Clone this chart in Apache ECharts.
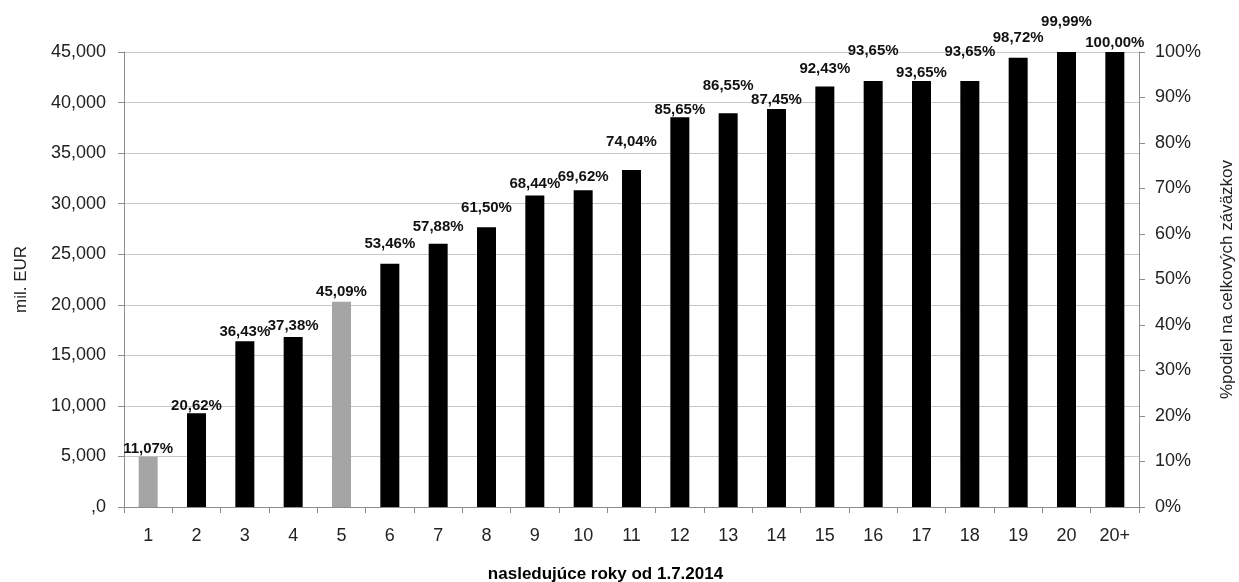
<!DOCTYPE html>
<html>
<head>
<meta charset="utf-8">
<script src="https://cdn.jsdelivr.net/npm/echarts@6/dist/echarts.min.js"></script>
<style>
html,body{margin:0;padding:0;background:#fff;}
#chart{width:1239px;height:582px;}
</style>
</head>
<body>
<div id="chart"></div>
<script>
// ---- data ----
var categories = ['1','2','3','4','5','6','7','8','9','10','11','12','13','14','15','16','17','18','19','20','20+'];
var sharePct = [11.07, 20.62, 36.43, 37.38, 45.09, 53.46, 57.88, 61.50, 68.44, 69.62, 74.04, 85.65, 86.55, 87.45, 92.43, 93.65, 93.65, 93.65, 98.72, 99.99, 100.00];
var highlighted = ['1', '5'];
var leftAxisMax = 45000;
var leftAxisStep = 5000;

// ---- styling ----
var FONT = '"Liberation Sans", Arial, sans-serif';
// extra vertical lift (px) of some labels, as placed in the original chart
var labelLift = [0,0,2,4,2,12,9,12,4,6,21,0,20,2,10,23,1,22,12,23,2];

var barData = sharePct.map(function (v, i) {
  var isGrey = highlighted.indexOf(categories[i]) >= 0;
  return {
    value: v,
    itemStyle: { color: isGrey ? '#a5a5a5' : '#000000' },
    label: { offset: [0, -labelLift[i]] }
  };
});

function fmtLeft(v) {
  if (v === 0) return ',0';
  return v.toString().replace(/\B(?=(\d{3})+(?!\d))/g, ',');
}

var chart = echarts.init(document.getElementById('chart'));
chart.setOption({
  animation: false,
  backgroundColor: '#ffffff',
  grid: { left: 124, right: 100, top: 52, bottom: 75, containLabel: false, outerBoundsMode: 'none' },
  xAxis: {
    type: 'category',
    data: categories,
    name: 'nasledujúce roky od 1.7.2014',
    nameLocation: 'middle',
    nameGap: 59,
    nameTextStyle: { fontFamily: FONT, fontSize: 17, fontWeight: 'bold', color: '#000', padding: [0, 52, 0, 0] },
    axisLine: { lineStyle: { color: '#8c8c8c', width: 1 } },
    axisTick: { show: true, length: 6, lineStyle: { color: '#8c8c8c' } },
    axisLabel: { fontFamily: FONT, fontSize: 18, color: '#222', margin: 20 }
  },
  yAxis: [
    {
      type: 'value',
      min: 0,
      max: leftAxisMax,
      interval: leftAxisStep,
      name: 'mil. EUR',
      nameLocation: 'middle',
      nameGap: 94,
      nameTextStyle: { fontFamily: FONT, fontSize: 17, color: '#222' },
      axisLine: { show: true, lineStyle: { color: '#8c8c8c' } },
      axisTick: { show: true, length: 6, lineStyle: { color: '#8c8c8c' } },
      axisLabel: { fontFamily: FONT, fontSize: 18, color: '#222', margin: 18, formatter: fmtLeft },
      splitLine: { show: true, lineStyle: { color: '#c6c6c6', width: 1 } }
    },
    {
      type: 'value',
      min: 0,
      max: 100,
      interval: 10,
      position: 'right',
      name: '%podiel na celkových záväzkov',
      nameLocation: 'middle',
      nameGap: 80,
      nameRotate: 90,
      nameTextStyle: { fontFamily: FONT, fontSize: 17, color: '#222' },
      axisLine: { show: true, lineStyle: { color: '#8c8c8c' } },
      axisTick: { show: true, length: 6, lineStyle: { color: '#8c8c8c' } },
      axisLabel: { fontFamily: FONT, fontSize: 18, color: '#222', margin: 16, formatter: '{value}%' },
      splitLine: { show: false }
    }
  ],
  series: [
    {
      type: 'bar',
      yAxisIndex: 1,
      barWidth: 19,
      data: barData,
      label: {
        show: true,
        position: 'top',
        distance: 0,
        fontFamily: FONT,
        fontSize: 15,
        fontWeight: 'bold',
        color: '#111',
        formatter: function (p) { return p.value.toFixed(2).replace('.', ',') + '%'; }
      }
    }
  ]
});
</script>
</body>
</html>
